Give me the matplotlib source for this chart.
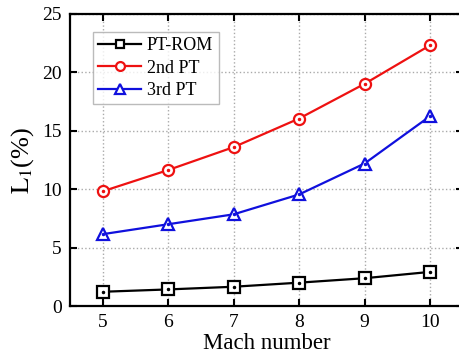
import matplotlib
matplotlib.use("Agg")
import matplotlib.pyplot as plt

mach = [5, 6, 7, 8, 9, 10]
pt_rom = [1.22, 1.42, 1.65, 2.0, 2.38, 2.92]
pt2 = [9.82, 11.64, 13.6, 16.05, 19.02, 22.32]
pt3 = [6.15, 7.0, 7.85, 9.55, 12.2, 16.25]
labels = ["PT-ROM", "2nd PT", "3rd PT"]

plt.rcParams['font.family'] = ['Liberation Serif', 'DejaVu Serif']
plt.rcParams['mathtext.fontset'] = 'stix'

fig = plt.figure(figsize=(4.6, 3.56), dpi=100)
ax = fig.add_axes([0.152, 0.1404, 0.854, 0.8203])

ms = 8
ax.plot(mach, pt_rom, '-s', color='black', lw=1.6, ms=ms, mfc='white', mew=1.6, label=labels[0])
ax.plot(mach, pt2, '-o', color='#ee1111', lw=1.6, ms=ms, mfc='white', mew=1.6, label=labels[1])
ax.plot(mach, pt3, '-^', color='#1010dd', lw=1.6, ms=ms+1, mfc='white', mew=1.6, label=labels[2])
for y, c in [(pt_rom, 'black'), (pt2, '#ee1111'), (pt3, '#1010dd')]:
    ax.plot(mach, y, 'o', color=c, ms=1.5, ls='none')

ax.set_xlim(4.5, 10.5)
ax.set_ylim(0, 25)
ax.set_xticks(mach)
ax.set_yticks([0, 5, 10, 15, 20, 25])
ax.grid(True, color='#aaaaaa', ls=':', lw=1)
ax.tick_params(direction='in', top=True, right=True, length=5, width=1.5, labelsize=14, pad=6)
for s in ax.spines.values():
    s.set_linewidth(1.6)
ax.set_xlabel('Mach number', fontsize=16.5, labelpad=1)
ax.set_ylabel(r'$\mathrm{L_1}$(%)', fontsize=19, labelpad=4)

leg = ax.legend(loc='upper left', bbox_to_anchor=(0.035, 0.97), fontsize=13, frameon=True, fancybox=False,
                edgecolor='#aaaaaa', handlelength=2.4, borderpad=0.3, labelspacing=0.3, handletextpad=0.3,
                markerscale=0.8)
leg.get_frame().set_linewidth(1)

fig.savefig('out.png', dpi=100)
